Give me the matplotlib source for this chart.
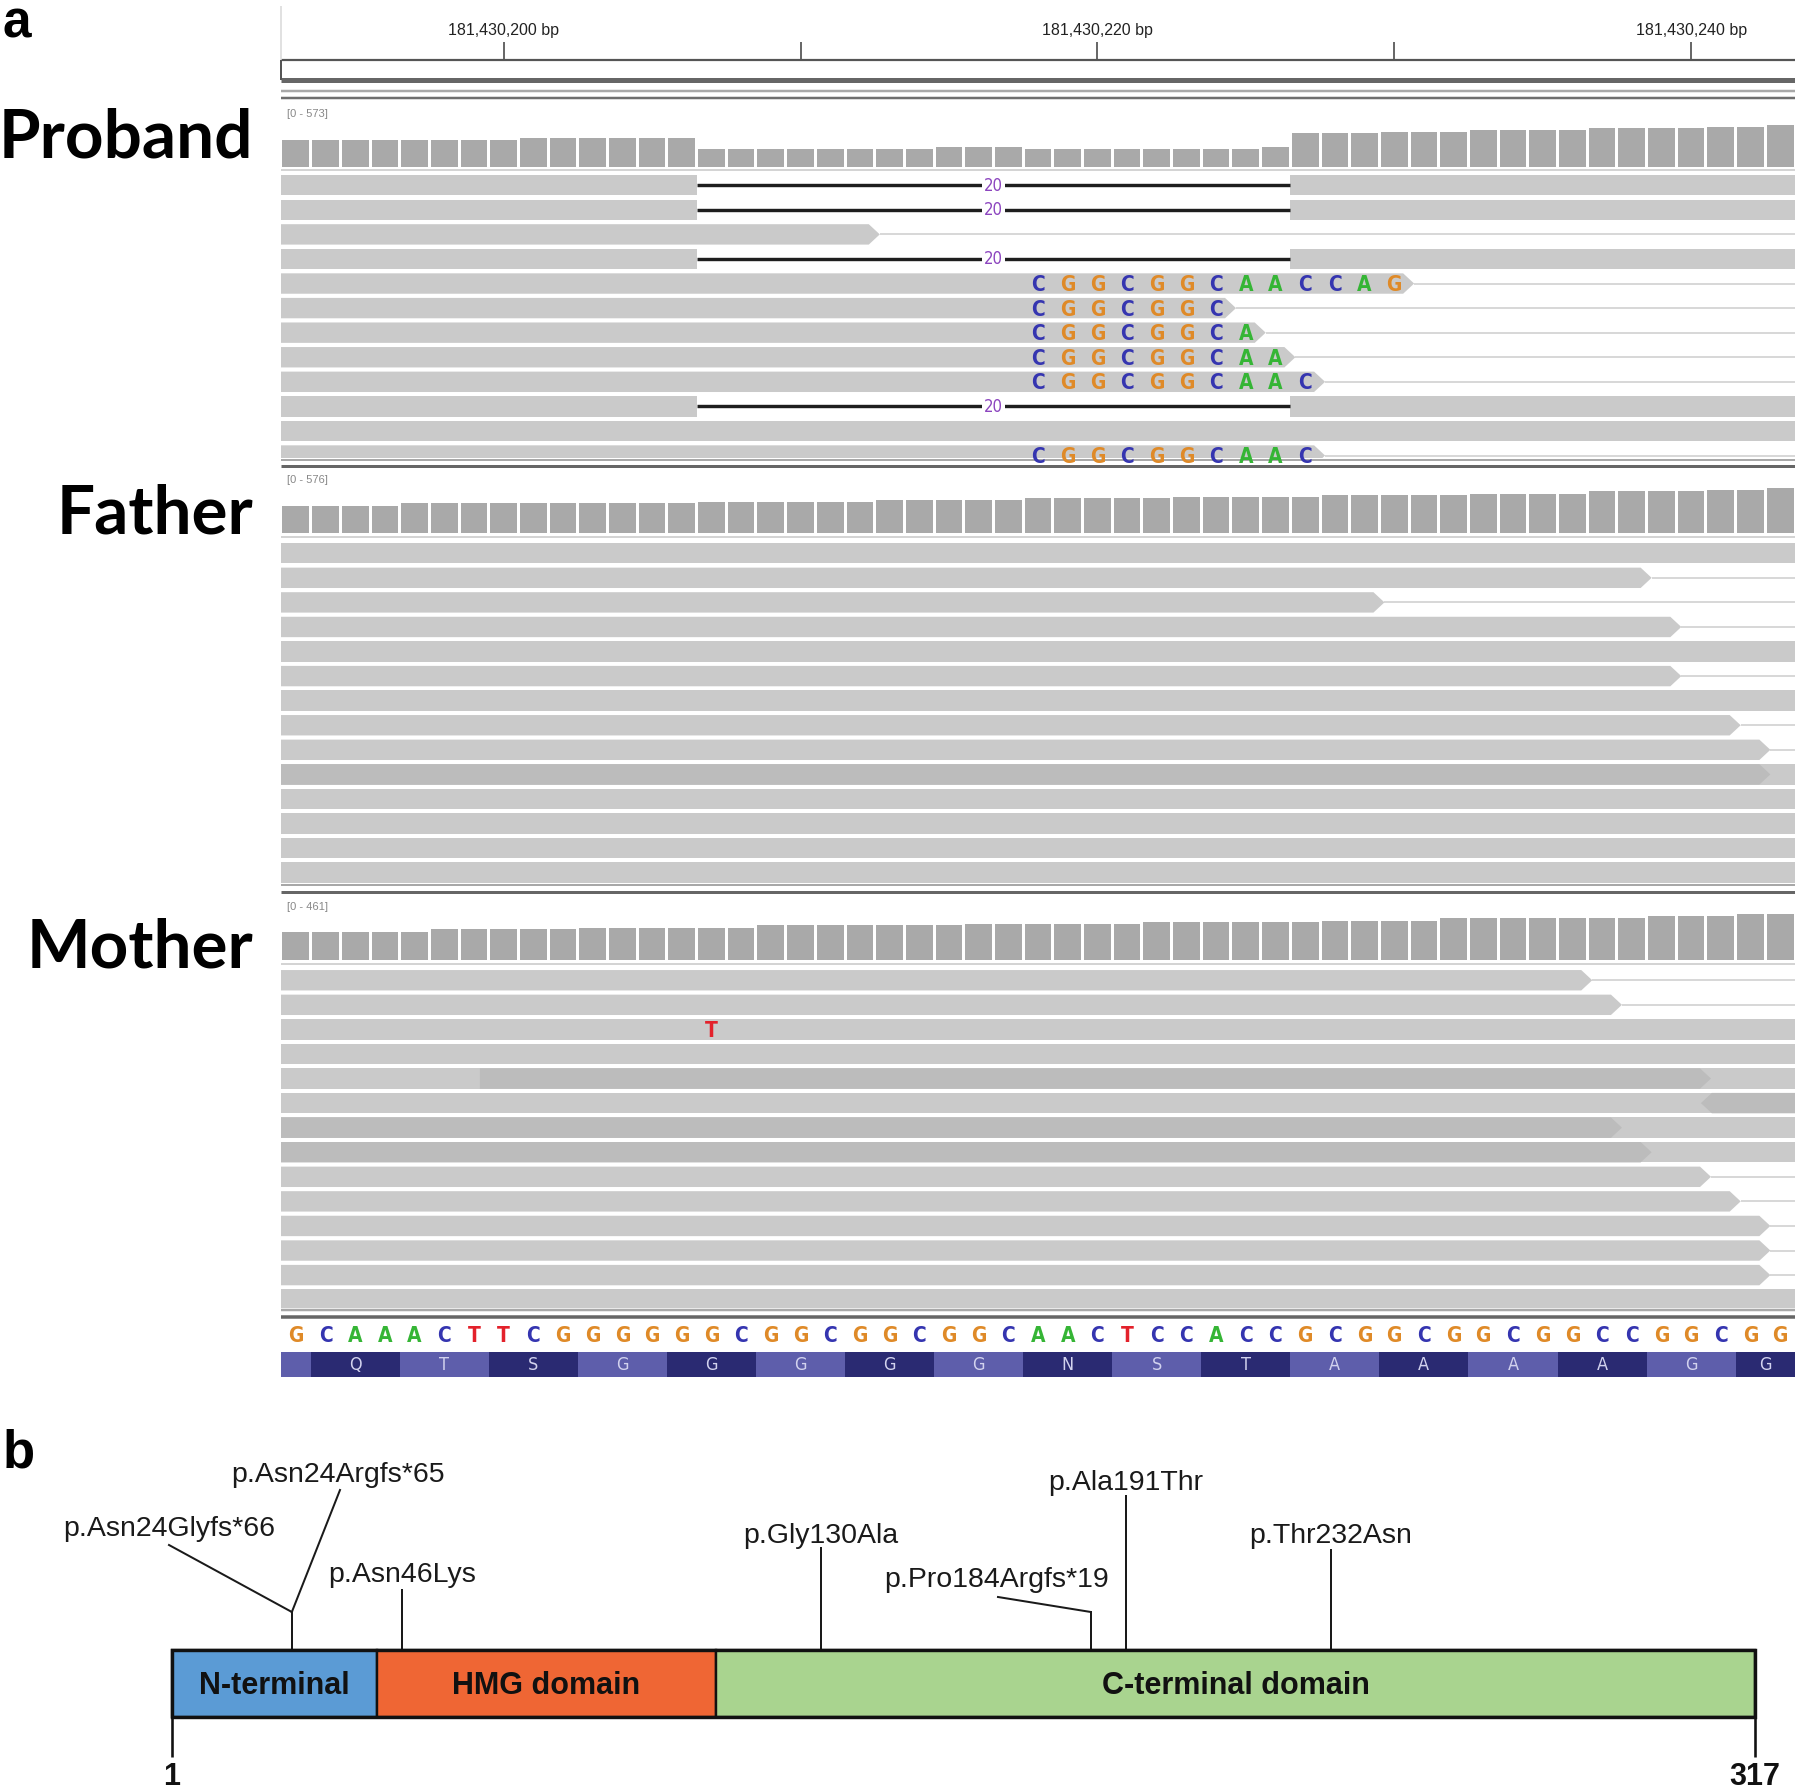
import numpy as np
import matplotlib
matplotlib.use("Agg")
import matplotlib.pyplot as plt
from matplotlib.patches import Polygon
from matplotlib.font_manager import FontProperties, fontManager

# ------------------------------------------------------------------ data
VIEW_START = 181430193  # genomic coordinate of the first base in view
reference_seq = list("GCAAACTTCGGGGGGCGGCGGCGGCAACTCCACCGCGGCGGCGGCCGGCGG")
amino_acids = ["", "Q", "T", "S", "G", "G", "G", "G", "G", "N", "S", "T",
               "A", "A", "A", "A", "G", "G"]
ruler_positions = [181430200, 181430210, 181430220, 181430230, 181430240]
ruler_labels = ["181,430,200 bp", "", "181,430,220 bp", "", "181,430,240 bp"]

track_names = ["Proband", "Father", "Mother"]
coverage_range = [573, 576, 461]

proband_coverage = [250, 250, 250, 250, 250, 250, 250, 250,
                    265, 265, 265, 265, 265, 265,
                    164, 164, 164, 164, 164, 164, 164, 164,
                    188, 188, 188,
                    164, 164, 164, 164, 164, 164, 164, 164,
                    188,
                    311, 311, 311, 326, 326, 326, 342, 342, 342, 342,
                    358, 358, 358, 358, 372, 372, 388]
father_coverage = [251, 251, 251, 251,
                   276, 276, 276, 276, 276, 276, 276, 276, 276, 276,
                   291, 291, 291, 291, 291, 291,
                   302, 302, 302, 302, 302,
                   323, 323, 323, 323, 323,
                   339, 339, 339, 339, 339,
                   355, 355, 355, 355, 355,
                   366, 366, 366, 366,
                   387, 387, 387, 387,
                   398, 398, 419]
mother_coverage = [210, 210, 210, 210, 210,
                   228, 228, 228, 228, 228,
                   240, 240, 240, 240, 240, 240,
                   260, 260, 260, 260, 260, 260, 260,
                   267, 267, 267, 267, 267, 267,
                   280, 280, 280, 280, 280, 280,
                   292, 292, 292, 292,
                   309, 309, 309, 309, 309,
                   316, 316,
                   325, 325, 325,
                   343, 343]

# reads (base index where each read ends; all start at the left edge)
proband_read_end = [51, 51, 20, 51, 38, 32, 33, 34, 35, 51, 51, 35]
proband_deletion_rows = [0, 1, 3, 9]
deletion_start = 14
deletion_length = 20
softclip_start = 25
proband_softclips = ["", "", "", "", "CGGCGGCAACCAG", "CGGCGGC", "CGGCGGCA",
                     "CGGCGGCAA", "CGGCGGCAAC", "", "", "CGGCGGCAAC"]

father_read_end = [51, 46, 37, 47, 51, 47, 51, 49, 50, 51, 51, 51, 51, 51]
father_overlap_row = [9]
father_overlap_start = [0]
father_overlap_end = [50]
father_overlap_dir = ["right"]

mother_read_end = [44, 45, 51, 51, 51, 51, 51, 51, 48, 49, 50, 50, 50, 51]
mother_overlap_row = [4, 5, 6, 7]
mother_overlap_start = [6.7, 48, 0, 0]
mother_overlap_end = [48, 51, 45, 46]
mother_overlap_dir = ["right", "left", "right", "right"]
mother_mismatch_row = 2
mother_mismatch_base = 14
mother_mismatch_letter = "T"

# protein
protein_length = 317
domain_names = ["N-terminal", "HMG domain", "C-terminal domain"]
domain_start = [0, 41, 109]
domain_end = [41, 109, 317]
variant_names = ["p.Asn24Glyfs*66", "p.Asn24Argfs*65", "p.Asn46Lys",
                 "p.Gly130Ala", "p.Pro184Argfs*19", "p.Ala191Thr", "p.Thr232Asn"]
variant_pos = [24, 24, 46, 130, 184, 191, 232]

# ------------------------------------------------------------------ style
W, H, DPI = 1800, 1791, 100
PX = 72.0 / DPI  # points per pixel
BASE_COL = {"A": "#35b535", "C": "#3535b0", "G": "#df8a28", "T": "#e3212b"}
READ = "#cacaca"
READ_DARK = "#bcbcbc"
COV = "#a9a9a9"
PURPLE = "#8c45bf"
domain_colors = ["#5b9bd5", "#ef6634", "#a9d48f"]

_names = {f.name for f in fontManager.ttflist}
if "Liberation Sans Narrow" in _names:
    NB_FONT = FontProperties(family="Liberation Sans Narrow", weight="bold")
    NR_FONT = FontProperties(family="Liberation Sans Narrow")
else:
    NB_FONT = FontProperties(family="DejaVu Sans", stretch="condensed", weight="bold")
    NR_FONT = FontProperties(family="DejaVu Sans", stretch="condensed")

fig = plt.figure(figsize=(W / DPI, H / DPI), dpi=DPI)
fig.patch.set_facecolor("white")


def px_axes(x0, y0, x1, y1, z=1):
    ax = fig.add_axes([x0 / W, 1 - y1 / H, (x1 - x0) / W, (y1 - y0) / H], zorder=z)
    ax.set_axis_off()
    return ax


IGV_X0, IGV_X1 = 281, 1795
NB = len(reference_seq)

# ------------------------------------------------------------------ panel a: background / separators
ax_bg = px_axes(IGV_X0, 0, IGV_X1, 1380, z=0)
ax_bg.set_xlim(0, NB)
ax_bg.set_ylim(1380, 0)
for y, c, lw in [(169.5, "#d4d4d4", 2), (536.5, "#d4d4d4", 2), (963.5, "#d4d4d4", 2),
                 (460, "#a8a8a8", 2), (466, "#666666", 3),
                 (885, "#a8a8a8", 2), (892, "#666666", 3),
                 (1309.5, "#a8a8a8", 2.5), (1317, "#666666", 3.5)]:
    ax_bg.hlines(y, 0, NB, color=c, lw=lw * PX)

# ruler
ax_r = px_axes(IGV_X0, 0, IGV_X1, 102, z=2)
ax_r.set_xlim(0, NB)
ax_r.set_ylim(102, 0)
tick_x = [p - VIEW_START + 0.5 for p in ruler_positions]
ax_r.vlines(tick_x, 42, 60, color="#444444", lw=1.6 * PX)
for x, lab in zip(tick_x, ruler_labels):
    if lab:
        ax_r.text(x, 30, lab, ha="center", va="center", fontsize=11.5,
                  family="Liberation Sans", color="#222222")
ax_r.hlines(60, 0, NB, color="#555555", lw=2.2 * PX)
ax_r.hlines(80, 0, NB, color="#666666", lw=5 * PX)
ax_r.vlines(0, 60, 80, color="#555555", lw=2 * PX, clip_on=False)
ax_r.vlines(0, 6, 60, color="#d8d8d8", lw=1.5 * PX, clip_on=False)
ax_r.hlines(90.5, 0, NB, color="#a8a8a8", lw=2.5 * PX)
ax_r.hlines(98, 0, NB, color="#6e6e6e", lw=2.5 * PX)

# coverage tracks
cov_boxes = [(105, 167), (471, 533), (898, 960)]
for vals, rmax, (y0, y1) in zip([proband_coverage, father_coverage, mother_coverage],
                                coverage_range, cov_boxes):
    ax = px_axes(IGV_X0, y0, IGV_X1, y1, z=2)
    ax.set_xlim(0, NB)
    ax.set_ylim(0, rmax)
    ax.bar(np.arange(NB) + 0.5, vals, width=0.9, color=COV, linewidth=0)
    ax.text(0.004, 0.86, f"[0 - {rmax}]", transform=ax.transAxes, fontsize=8,
            color="#888888", va="center", family="Liberation Sans")

# track names
for name, base in zip(track_names, [158, 533, 968]):
    fig.text(253 / W, 1 - base / H, name, ha="right", va="baseline",
             family="Lato", weight="bold", fontsize=48.5, color="black")

# reads
PITCH = 24.57
HALF = 0.415
CAP_OFF = 7.4 / PITCH


def reads_axes(y0, y1, c0):
    ax = px_axes(IGV_X0, y0, IGV_X1, y1, z=3)
    ax.set_xlim(0, NB)
    ax.set_ylim((y1 - c0) / PITCH, (y0 - c0) / PITCH)
    return ax


def read_shape(ax, row, s, e, color, tip):
    h, a, b = HALF, 0.2, 0.17
    if tip == "right" and e < NB:
        pts = [(s, row - h), (e - a, row - h), (e + b, row), (e - a, row + h), (s, row + h)]
    elif tip == "left" and s > 0:
        pts = [(s + a, row - h), (e, row - h), (e, row + h), (s + a, row + h), (s - b, row)]
    else:
        pts = [(s, row - h), (e, row - h), (e, row + h), (s, row + h)]
    ax.add_patch(Polygon(pts, closed=True, fc=color, ec="none", zorder=2))


def tail(ax, row, e):
    if e < NB:
        ax.plot([e + 0.17, NB], [row, row], color="#d8d8d8", lw=2 * PX, zorder=1,
                solid_capstyle="butt")


def base_letter(ax, x, row, b):
    t = ax.text(x, row + CAP_OFF, b, ha="center", va="baseline", color=BASE_COL[b],
                fontproperties=NB_FONT, fontsize=15, zorder=4)
    t.set_clip_path(ax.patch)


ax_p = reads_axes(170, 458, 185.25)
for i, e in enumerate(proband_read_end):
    if i in proband_deletion_rows:
        d1 = deletion_start + deletion_length
        read_shape(ax_p, i, 0, deletion_start, READ, None)
        read_shape(ax_p, i, d1, e, READ, "right")
        ax_p.plot([deletion_start, d1], [i, i], color="#1e1e1e", lw=3.4 * PX, zorder=2,
                  solid_capstyle="butt")
        ax_p.text(deletion_start + deletion_length / 2, i + 0.02, str(deletion_length),
                  ha="center", va="center", color=PURPLE, fontproperties=NR_FONT,
                  fontsize=12, zorder=3,
                  bbox=dict(fc="white", ec="none", pad=1.2))
    else:
        read_shape(ax_p, i, 0, e, READ, "right")
        tail(ax_p, i, e)
    for j, b in enumerate(proband_softclips[i]):
        base_letter(ax_p, softclip_start + j + 0.5, i, b)

ax_f = reads_axes(538, 886, 553.25)
for i, e in enumerate(father_read_end):
    read_shape(ax_f, i, 0, e, READ, "right")
    tail(ax_f, i, e)
for r, s, e, d in zip(father_overlap_row, father_overlap_start, father_overlap_end,
                      father_overlap_dir):
    read_shape(ax_f, r, s, e, READ_DARK, d)

ax_m = reads_axes(965, 1308, 980.25)
for i, e in enumerate(mother_read_end):
    read_shape(ax_m, i, 0, e, READ, "right")
    tail(ax_m, i, e)
for r, s, e, d in zip(mother_overlap_row, mother_overlap_start, mother_overlap_end,
                      mother_overlap_dir):
    read_shape(ax_m, r, s, e, READ_DARK, d)
base_letter(ax_m, mother_mismatch_base + 0.5, mother_mismatch_row, mother_mismatch_letter)

# reference sequence
ax_s = px_axes(IGV_X0, 1320, IGV_X1, 1348, z=2)
ax_s.set_xlim(0, NB)
ax_s.set_ylim(1348, 1320)
for k, b in enumerate(reference_seq):
    ax_s.text(k + 0.5, 1341.5, b, ha="center", va="baseline", color=BASE_COL[b],
              fontproperties=NB_FONT, fontsize=15)

# translation
ax_aa = px_axes(IGV_X0, 1352, IGV_X1, 1377, z=2)
ax_aa.set_xlim(0, NB)
ax_aa.set_ylim(0, 1)
for i, aa in enumerate(amino_acids):
    s = max(0, -2 + 3 * i)
    e = min(NB, 1 + 3 * i)
    ax_aa.bar((s + e) / 2, 1, width=e - s, bottom=0,
              color="#2a2a72" if i % 2 else "#5e5eab", linewidth=0)
    if aa:
        ax_aa.text((s + e) / 2, 0.26, aa, ha="center", va="baseline", color="#d2d2ee",
                   fontproperties=NR_FONT, fontsize=13)

# panel letters
fig.text(3 / W, 1 - 38 / H, "a", fontsize=37, weight="bold", family="Liberation Sans",
         va="baseline", ha="left")
fig.text(3 / W, 1 - 1467 / H, "b", fontsize=38, weight="bold", family="Liberation Sans",
         va="baseline", ha="left")

# ------------------------------------------------------------------ panel b: protein
P_X0, P_X1 = 172, 1755
PX_PER_AA = (P_X1 - P_X0) / protein_length
ax_b = px_axes(0, 1400, W, H, z=2)
ax_b.set_xlim(-P_X0 / PX_PER_AA, protein_length + (W - P_X1) / PX_PER_AA)
ax_b.set_ylim(H, 1400)


def px2aa(px):
    return (px - P_X0) / PX_PER_AA


BOX_TOP, BOX_BOT = 1650, 1717
box_mid = (BOX_TOP + BOX_BOT) / 2
ax_b.barh(box_mid, np.subtract(domain_end, domain_start), left=domain_start,
          height=BOX_BOT - BOX_TOP, color=domain_colors, edgecolor="#111111",
          linewidth=2.4 * PX, zorder=2)
ax_b.barh(box_mid, protein_length, left=0, height=BOX_BOT - BOX_TOP, fill=False,
          edgecolor="#111111", linewidth=3.4 * PX, zorder=3)
for name, s, e in zip(domain_names, domain_start, domain_end):
    ax_b.text((s + e) / 2, box_mid + 11, name, ha="center", va="baseline",
              fontsize=22, weight="bold", family="Liberation Sans", color="#111111", zorder=4)

# end ticks
ax_b.vlines([0, protein_length], BOX_BOT, 1757, color="#111111", lw=2.6 * PX)
for x, lab in zip([0, protein_length], ["1", str(protein_length)]):
    ax_b.text(x, 1785, lab, ha="center", va="baseline", fontsize=22, weight="bold",
              family="Liberation Sans", color="#111111")

# variant stems and labels (layout: stem top, optional bend point, label centre)
variant_layout = [
    (1612, (169, 1545), (169, 1529)),
    (1612, (340, 1490), (338, 1475)),
    (1590, None, (None, 1575)),
    (1548, None, (None, 1536)),
    (1612, (998, 1597), (997, 1580)),
    (1496, None, (None, 1483)),
    (1550, None, (None, 1536)),
]
for name, pos, (top, bend, (lx, ly)) in zip(variant_names, variant_pos, variant_layout):
    ax_b.plot([pos, pos], [BOX_TOP, top], color="#1a1a1a", lw=2 * PX, zorder=1)
    if bend is not None:
        ax_b.plot([pos, px2aa(bend[0])], [top, bend[1]], color="#1a1a1a", lw=2 * PX, zorder=1)
    x = pos if lx is None else px2aa(lx)
    ax_b.text(x, ly, name, ha="center", va="center", fontsize=20.5,
              family="Liberation Sans", color="#1a1a1a")

fig.savefig("out.png", dpi=DPI, facecolor="white")
